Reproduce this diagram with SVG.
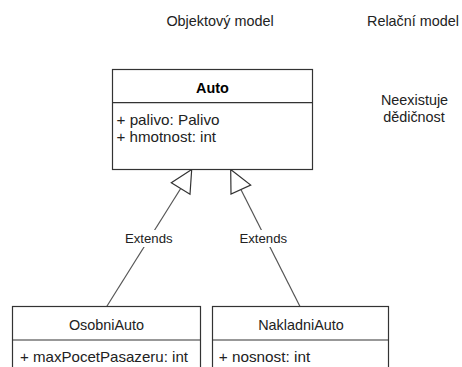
<svg xmlns="http://www.w3.org/2000/svg" width="462" height="367" viewBox="0 0 462 367">
<style>
text{font-family:"Liberation Sans",Arial,sans-serif;font-size:14.4px;fill:#222}
.c{text-anchor:middle}
.b{font-weight:bold;fill:#000}
.lbl{font-size:13.2px;fill:#222}
.box{fill:#fff;stroke:#333;stroke-width:1.2}
.edge{stroke:#555;stroke-width:1.2;fill:none}
.tri{fill:#fff;stroke:#333;stroke-width:1.2;stroke-linejoin:miter}
</style>
<rect width="462" height="367" fill="#fff"/>
<g id="title-objektovy"><text class="c" x="220" y="26">Objektový model</text></g>
<g id="title-relacni"><text class="c" x="413" y="26">Relační model</text></g>
<g id="note-neexistuje"><text class="c" x="414.5" y="105">Neexistuje</text><text class="c" x="414" y="122.3">dědičnost</text></g>
<g id="connectors">
<line class="edge" x1="106.7" y1="306.5" x2="180.7" y2="188.5"/>
<polygon class="tri" points="191.7,169.5 171.3,182.7 190,194.3"/>
<rect x="127" y="230" width="44" height="17" fill="#fff"/>
<text class="c lbl" x="148.8" y="243.3">Extends</text>
<line class="edge" x1="300" y1="306.5" x2="240.9" y2="189.5"/>
<polygon class="tri" points="230.7,169.5 231,194 250.7,185"/>
<rect x="241.5" y="230" width="44" height="17" fill="#fff"/>
<text class="c lbl" x="263.3" y="243.3">Extends</text>
</g>
<g id="node-auto">
<rect class="box" x="112.5" y="69.5" width="200" height="100"/>
<line class="box" x1="112.5" y1="102.7" x2="312.5" y2="102.7"/>
<text class="c b" x="212.5" y="92.5">Auto</text>
<text x="116.5" y="124.5" textLength="103" lengthAdjust="spacingAndGlyphs">+ palivo: Palivo</text>
<text x="116.5" y="141.8" textLength="99.5" lengthAdjust="spacingAndGlyphs">+ hmotnost: int</text>
</g>
<g id="node-osobniauto">
<rect class="box" x="12.5" y="306.5" width="188" height="80"/>
<line class="box" x1="12.5" y1="340" x2="200.5" y2="340"/>
<text class="c" x="106.5" y="329.5">OsobniAuto</text>
<text x="20" y="362" textLength="168" lengthAdjust="spacingAndGlyphs">+ maxPocetPasazeru: int</text>
</g>
<g id="node-nakladniauto">
<rect class="box" x="212.5" y="306.5" width="176" height="80"/>
<line class="box" x1="212.5" y1="340" x2="388.5" y2="340"/>
<text class="c" x="301" y="329.5">NakladniAuto</text>
<text x="218.7" y="362" textLength="91.5" lengthAdjust="spacingAndGlyphs">+ nosnost: int</text>
</g>
</svg>
